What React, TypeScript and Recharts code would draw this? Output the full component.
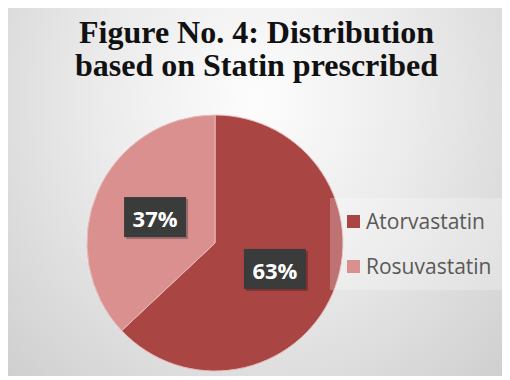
import React from 'react';
import { PieChart, Pie, Cell, Legend } from 'recharts';

const statins = ['Atorvastatin', 'Rosuvastatin'];
const shares = [63, 37];
const colors = ['#A94543', '#D9908F'];

const data = statins.map((name, i) => ({ name, value: shares[i] }));

const RADIAN = Math.PI / 180;

const renderLabel = (props: any) => {
  const { cx, cy, midAngle, outerRadius, percent } = props;
  const r = outerRadius * 0.51;
  const x = cx + r * Math.cos(-midAngle * RADIAN);
  const y = cy + r * Math.sin(-midAngle * RADIAN);
  return (
    <g>
      <rect x={x - 29} y={y - 18} width={62} height={40} fill='#000' opacity={0.25} />
      <rect x={x - 31} y={y - 20} width={62} height={40} fill='#3a3b3b' />
      <text
        x={x}
        y={y + 1}
        fill='#fff'
        fontFamily='"Open Sans", sans-serif'
        fontWeight={700}
        fontSize={22}
        textAnchor='middle'
        dominantBaseline='central'
      >
        {`${Math.round(percent * 100)}%`}
      </text>
    </g>
  );
};

const renderLegend = (props: any) => {
  const { payload } = props;
  return (
    <div
      style={{
        background: 'rgba(255,255,255,0.25)',
        width: 172,
        height: 92,
        boxSizing: 'border-box',
        paddingLeft: 17,
        paddingTop: 11,
      }}
    >
      {payload.map((entry: any, i: number) => (
        <div
          key={i}
          style={{
            display: 'flex',
            alignItems: 'center',
            height: 24,
            marginBottom: 21,
            fontFamily: '"Open Sans", sans-serif',
            fontSize: 21,
            color: '#595959',
          }}
        >
          <span
            style={{
              display: 'inline-block',
              width: 13,
              height: 13,
              background: entry.color,
              marginRight: 6,
            }}
          />
          {entry.value}
        </div>
      ))}
    </div>
  );
};

export default function App() {
  return (
    <div
      style={{
        position: 'relative',
        width: 497,
        height: 368,
        background:
          'radial-gradient(ellipse at 50% 25%, #fdfdfd 0%, #ebebeb 45%, #cfcfcf 100%)',
      }}
    >
      <div
        style={{
          position: 'absolute',
          left: 0,
          top: 8,
          width: 497,
          textAlign: 'center',
          fontFamily: '"Liberation Serif", "Times New Roman", serif',
          fontWeight: 700,
          fontSize: 32,
          lineHeight: '33px',
          color: '#111',
        }}
      >
        Figure No. 4: Distribution
        <br />
        based on Statin prescribed
      </div>
      <PieChart width={497} height={368} style={{ position: 'absolute', left: 0, top: 0 }}>
        <Pie
          data={data}
          dataKey='value'
          nameKey='name'
          cx={202}
          cy={230}
          outerRadius={128}
          startAngle={90}
          endAngle={-270}
          stroke='#e9b9b8'
          strokeWidth={1}
          label={renderLabel}
          labelLine={false}
          isAnimationActive={false}
        >
          {data.map((d, i) => (
            <Cell key={d.name} fill={colors[i]} />
          ))}
        </Pie>
        <Legend
          content={renderLegend}
          wrapperStyle={{ position: 'absolute', left: 322, top: 190, width: 172 }}
        />
      </PieChart>
    </div>
  );
}
